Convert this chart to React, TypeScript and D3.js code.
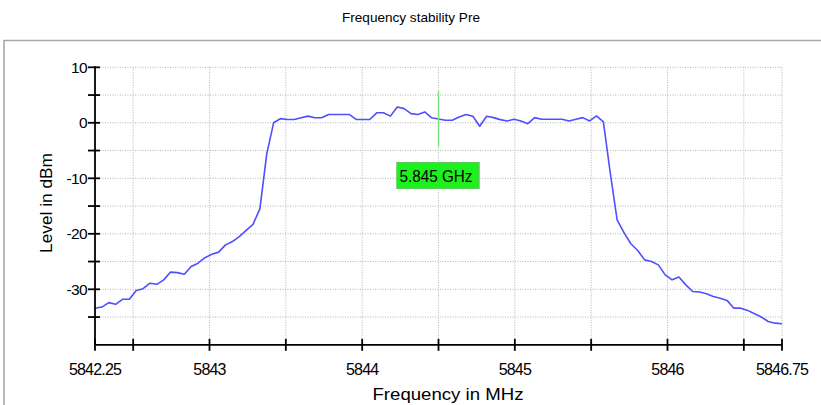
import React from "react";
import * as d3 from "d3";

// ---- data ----
const freqStart = 5842.25;
const freqStep = 0.045;
const levels = [
  -33.4, -33.2, -32.4, -32.7, -31.8, -31.8, -30.2, -29.9, -28.9, -29.1,
  -28.3, -26.9, -27.0, -27.3, -25.9, -25.3, -24.3, -23.7, -23.3, -22.0,
  -21.4, -20.5, -19.4, -18.3, -15.5, -5.6, 0.0, 0.75, 0.6, 0.6,
  0.9, 1.2, 0.9, 0.9, 1.5, 1.5, 1.5, 1.5, 0.6, 0.6,
  0.6, 1.8, 1.8, 1.2, 2.85, 2.55, 1.65, 1.5, 1.95, 0.9,
  0.7, 0.45, 0.45, 1.05, 1.5, 1.17, -0.63, 1.17, 0.93, 0.57,
  0.33, 0.63, 0.33, -0.15, 0.93, 0.63, 0.63, 0.63, 0.63, 0.33,
  0.63, 0.93, 0.33, 1.23, 0.15, -9.0, -17.5, -19.8, -21.8, -23.0,
  -24.7, -25.0, -25.6, -27.4, -28.3, -27.8, -29.2, -30.4, -30.5, -30.8,
  -31.3, -31.6, -32.0, -33.4, -33.4, -33.8, -34.4, -35.0, -35.8, -36.1,
  -36.2,
];
const xTickValues = [5842.25, 5842.5, 5843, 5843.5, 5844, 5844.5, 5845, 5845.5, 5846, 5846.5, 5846.75];
const xTickLabels = ["5842.25", "", "5843", "", "5844", "", "5845", "", "5846", "", "5846.75"];
const yTickValues = [10, 5, 0, -5, -10, -15, -20, -25, -30, -35];
const yTickLabels = ["10", "", "0", "", "-10", "", "-20", "", "-30", ""];
const markerIndex = 50;
const markerLabel = "5.845 GHz";
const title = "Frequency stability Pre";
const xTitle = "Frequency in MHz";
const yTitle = "Level in dBm";

const W = 821;
const H = 405;
const left = 95;
const right = 782;
const top = 67.3;
const bottom = 344.8;

export default function App() {
  const x = d3.scaleLinear().domain([5842.25, 5846.75]).range([left, right]);
  const y = d3.scaleLinear().domain([10, -40]).range([top, bottom]);
  const pts = levels.map((v, i) => [freqStart + i * freqStep, v] as [number, number]);
  const line = d3
    .line<[number, number]>()
    .x((d) => x(d[0]))
    .y((d) => y(d[1]));

  const mf = pts[markerIndex][0];
  const mv = pts[markerIndex][1];
  const mx = x(mf);
  const my = y(mv);

  const gridColor = "#b4b4b4";
  const font = "'Liberation Sans', Arial, sans-serif";

  return (
    <svg
      width={W}
      height={H}
      style={{ position: "absolute", left: 0, top: 0, background: "#fff" }}
      fontFamily={font}
    >
      <rect x={0} y={0} width={W} height={H} fill="#fff" />
      {/* title */}
      <text x={411} y={22} textAnchor="middle" fontSize={13} fill="#000" textLength={138} lengthAdjust="spacingAndGlyphs">
        {title}
      </text>
      {/* panel border */}
      <path d={`M4,${H + 2} L4,40.5 L${W + 2},40.5`} fill="none" stroke="#a8a8a8" strokeWidth={1.6} />

      {/* grid */}
      {yTickValues.map((v) => (
        <line key={"gy" + v} x1={left} x2={right} y1={y(v)} y2={y(v)} stroke={gridColor} strokeWidth={1} strokeDasharray="1,1.5" />
      ))}
      {xTickValues.slice(1).map((v) => (
        <line key={"gx" + v} x1={x(v)} x2={x(v)} y1={top} y2={bottom} stroke={gridColor} strokeWidth={1} strokeDasharray="1,1.5" />
      ))}

      {/* trace */}
      <path d={line(pts) || ""} fill="none" stroke="#4f4fff" strokeWidth={1.6} strokeLinejoin="round" />

      {/* marker */}
      <line x1={mx} x2={mx} y1={y(mv + 5)} y2={y(mv - 5)} stroke="#7ee07e" strokeWidth={1.5} />
      <rect x={mx - 41.5} y={my + 43.8} width={82} height={25.5} fill="#1ef01e" stroke="#55cc55" strokeWidth={1.5} />
      <text x={mx - 39} y={my + 63} fontSize={16} fill="#000" textLength={73} lengthAdjust="spacingAndGlyphs">
        {markerLabel}
      </text>

      {/* axes */}
      <line x1={left} x2={left} y1={top - 1} y2={bottom} stroke="#000" strokeWidth={1.8} />
      <line x1={left} x2={right} y1={bottom} y2={bottom} stroke="#000" strokeWidth={1.8} />
      {yTickValues.map((v, i) => (
        <g key={"ty" + v}>
          <line x1={left - 7} x2={left + 5} y1={y(v)} y2={y(v)} stroke="#000" strokeWidth={1.8} />
          {yTickLabels[i] && (
            <text x={left - 8} y={y(v)} dy="0.36em" textAnchor="end" fontSize={15.5} fill="#000" letterSpacing={-0.6}>
              {yTickLabels[i]}
            </text>
          )}
        </g>
      ))}
      {xTickValues.map((v, i) => (
        <g key={"tx" + v}>
          <line x1={x(v)} x2={x(v)} y1={bottom - 6} y2={bottom + 6} stroke="#000" strokeWidth={1.8} />
          {xTickLabels[i] && (
            <text x={x(v)} y={375} textAnchor="middle" fontSize={16} fill="#000" letterSpacing={-0.8}>
              {xTickLabels[i]}
            </text>
          )}
        </g>
      ))}

      {/* axis titles */}
      <text x={448} y={400} textAnchor="middle" fontSize={16} fill="#000" textLength={151} lengthAdjust="spacingAndGlyphs">
        {xTitle}
      </text>
      <text
        transform={`translate(52,203) rotate(-90)`}
        textAnchor="middle"
        fontSize={16}
        fill="#000"
        textLength={100}
        lengthAdjust="spacingAndGlyphs"
      >
        {yTitle}
      </text>
    </svg>
  );
}
